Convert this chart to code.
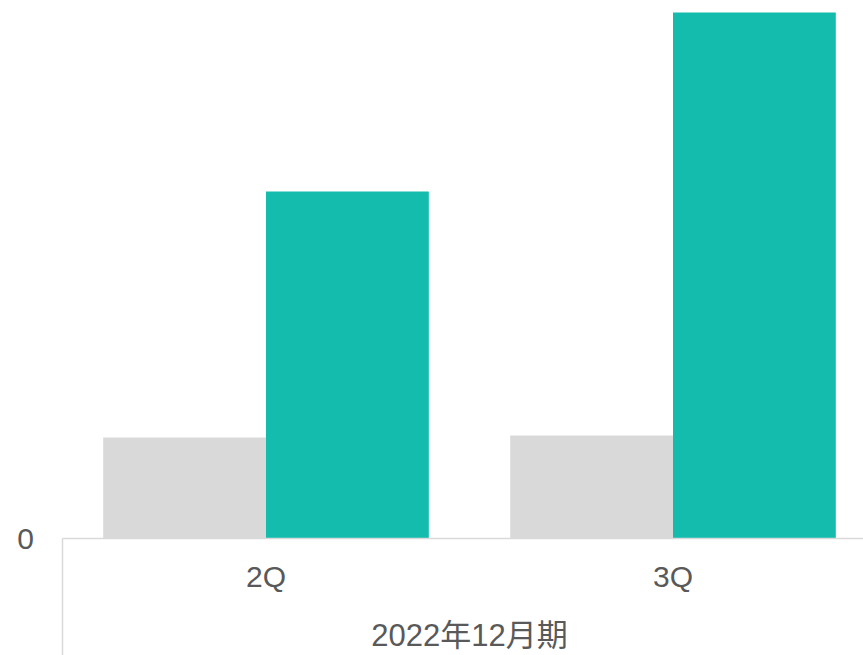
<!DOCTYPE html>
<html>
<head>
<meta charset="utf-8">
<script src="https://cdn.jsdelivr.net/npm/d3@7"></script>
<style>
  body { margin: 0; background: #fff; }
  text { font-family: "Liberation Sans", Arial, "Noto Sans CJK JP", sans-serif; fill: #595959; }
</style>
</head>
<body>
<div id="chart"></div>
<script>
// data (units arbitrary, only 0 is labelled)
const categories = ["2Q", "3Q"];
const series = ["prev", "curr"];
const prevValues = [101, 103];
const currValues = [347, 526];
const yTicks = [0];
const groupLabel = "2022年12月期";

const width = 863;
const height = 655;
const margin = { top: 0, right: -13.5, bottom: 116.5, left: 62.5 };

const svg = d3
  .select("#chart")
  .append("svg")
  .attr("width", width)
  .attr("height", height);

const x = d3
  .scaleBand()
  .domain(categories)
  .range([margin.left, width - margin.right])
  .padding(0);

const xInner = d3
  .scaleBand()
  .domain(series)
  .range([0, x.bandwidth()])
  .paddingOuter(0.25)
  .paddingInner(0);

const y = d3
  .scaleLinear()
  .domain([0, 538.5])
  .range([height - margin.bottom, margin.top]);

const colors = { prev: "#d9d9d9", curr: "#13bcad" };

const rows = [];
categories.forEach((c, i) => {
  rows.push({ cat: c, s: "prev", v: prevValues[i] });
  rows.push({ cat: c, s: "curr", v: currValues[i] });
});

svg
  .selectAll(".bar")
  .data(rows)
  .enter()
  .append("rect")
  .attr("class", "bar")
  .attr("x", (d) => x(d.cat) + xInner(d.s))
  .attr("width", xInner.bandwidth())
  .attr("y", (d) => y(d.v))
  .attr("height", (d) => y(0) - y(d.v))
  .attr("fill", (d) => colors[d.s]);

// baseline
svg
  .append("line")
  .attr("x1", margin.left)
  .attr("x2", width)
  .attr("y1", y(0))
  .attr("y2", y(0))
  .attr("stroke", "#d9d9d9")
  .attr("stroke-width", 1.5);

// group separator
svg
  .append("line")
  .attr("x1", margin.left)
  .attr("x2", margin.left)
  .attr("y1", y(0))
  .attr("y2", height)
  .attr("stroke", "#d9d9d9")
  .attr("stroke-width", 1.5);

// y tick labels
svg
  .selectAll(".ytick")
  .data(yTicks)
  .enter()
  .append("text")
  .attr("class", "ytick")
  .attr("x", 34)
  .attr("y", (d) => y(d))
  .attr("dy", "0.35em")
  .attr("text-anchor", "end")
  .style("font-size", "30px")
  .text((d) => d);

// category labels
svg
  .selectAll(".xlabel")
  .data(categories)
  .enter()
  .append("text")
  .attr("class", "xlabel")
  .attr("x", (d) => x(d) + x.bandwidth() / 2)
  .attr("y", y(0) + 38)
  .attr("dy", "0.35em")
  .attr("text-anchor", "middle")
  .style("font-size", "30px")
  .text((d) => d);

svg
  .append("text")
  .attr("x", (x.range()[0] + x.range()[1]) / 2)
  .attr("y", y(0) + 97)
  .attr("dy", "0.35em")
  .attr("text-anchor", "middle")
  .style("font-size", "31px")
  .text(groupLabel);
</script>
</body>
</html>
